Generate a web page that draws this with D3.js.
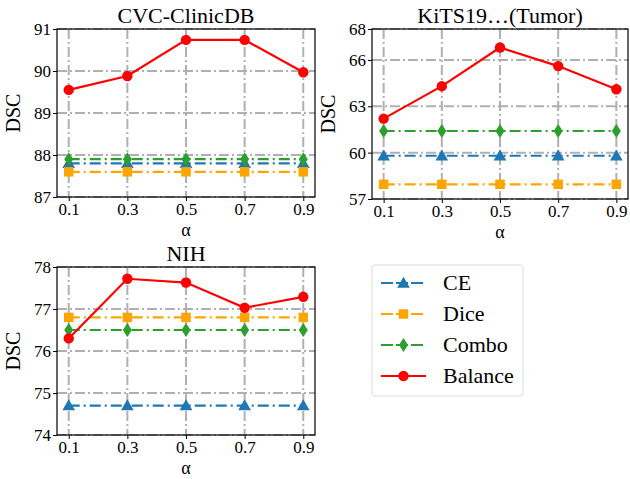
<!DOCTYPE html>
<html>
<head>
<meta charset="utf-8">
<script src="https://cdn.jsdelivr.net/npm/d3@7"></script>
<style>
  body { margin: 0; background: #fff; }
  svg text { font-family: "Liberation Serif", "DejaVu Serif", "Times New Roman", serif; fill: #000; }
</style>
</head>
<body>
<svg id="chart" width="630" height="479"></svg>
<script>
// data
const alphas = [0.1, 0.3, 0.5, 0.7, 0.9];
const tickLabels = ["0.1", "0.3", "0.5", "0.7", "0.9"];
const seriesNames = ["CE", "Dice", "Combo", "Balance"];

const cvcCE = [87.8, 87.8, 87.8, 87.8, 87.8];
const cvcDice = [87.6, 87.6, 87.6, 87.6, 87.6];
const cvcCombo = [87.9, 87.9, 87.9, 87.9, 87.9];
const cvcBalance = [89.55, 89.88, 90.74, 90.74, 89.97];

const kitsCE = [59.8, 59.8, 59.8, 59.8, 59.8];
const kitsDice = [57.95, 57.95, 57.95, 57.95, 57.95];
const kitsCombo = [61.4, 61.4, 61.4, 61.4, 61.4];
const kitsBalance = [62.2, 64.3, 66.8, 65.6, 64.1];

const nihCE = [74.7, 74.7, 74.7, 74.7, 74.7];
const nihDice = [76.8, 76.8, 76.8, 76.8, 76.8];
const nihCombo = [76.5, 76.5, 76.5, 76.5, 76.5];
const nihBalance = [76.3, 77.72, 77.63, 77.03, 77.29];

const cvcTicks = [87, 88, 89, 90, 91];
const kitsTicks = [57, 60, 63, 66, 68];
const nihTicks = [74, 75, 76, 77, 78];

const colors = { CE: "#1f77b4", Dice: "#ffa500", Combo: "#2ca02c", Balance: "#ff0000" };
const markers = { CE: d3.symbolTriangle, Dice: d3.symbolSquare, Combo: "diamond", Balance: d3.symbolCircle };
const serif = '"Liberation Serif", "DejaVu Serif", serif';

const panels = [
  { title: "KiTS19…(Tumor)", x: 372, y: 29, w: 256, h: 170, domain: [57, 68], ticks: kitsTicks,
    series: { CE: kitsCE, Dice: kitsDice, Combo: kitsCombo, Balance: kitsBalance } },
  { title: "CVC-ClinicDB", x: 57, y: 29, w: 258, h: 168, domain: [87, 91], ticks: cvcTicks,
    series: { CE: cvcCE, Dice: cvcDice, Combo: cvcCombo, Balance: cvcBalance } },
  { title: "NIH", x: 57, y: 267, w: 258, h: 168, domain: [74, 78], ticks: nihTicks,
    series: { CE: nihCE, Dice: nihDice, Combo: nihCombo, Balance: nihBalance } }
];

const svg = d3.select("#chart");

function drawMarker(g, name, cx, cy) {
  const c = colors[name];
  if (markers[name] === "diamond") {
    g.append("path")
      .attr("d", `M${cx},${cy - 7}L${cx + 4.5},${cy}L${cx},${cy + 7}L${cx - 4.5},${cy}Z`)
      .attr("fill", c);
  } else {
    const size = name === "Balance" ? 85 : name === "Dice" ? 90 : 70;
    g.append("path")
      .attr("d", d3.symbol().type(markers[name]).size(size)())
      .attr("transform", `translate(${cx},${cy + (name === "CE" ? 1 : 0)})`)
      .attr("fill", c);
  }
}

panels.forEach(p => {
  const g = svg.append("g").attr("transform", `translate(${p.x},${p.y})`);
  const x = d3.scaleLinear().domain([0.06, 0.94]).range([0, p.w]);
  const y = d3.scaleLinear().domain(p.domain).range([p.h, 0]);

  // grid
  g.selectAll(".gx").data(alphas).enter().append("line")
    .attr("x1", d => x(d)).attr("x2", d => x(d)).attr("y1", 0).attr("y2", p.h)
    .attr("stroke", "#b0b0b0").attr("stroke-width", 2).attr("stroke-dasharray", "10,3,2,3");
  g.selectAll(".gy").data(p.ticks).enter().append("line")
    .attr("x1", 0).attr("x2", p.w).attr("y1", d => y(d)).attr("y2", d => y(d))
    .attr("stroke", "#b0b0b0").attr("stroke-width", 2).attr("stroke-dasharray", "10,3,2,3");

  // lines
  seriesNames.forEach(name => {
    const vals = p.series[name];
    const line = d3.line().x((d, i) => x(alphas[i])).y(d => y(d));
    g.append("path").datum(vals)
      .attr("d", line)
      .attr("fill", "none")
      .attr("stroke", colors[name])
      .attr("stroke-width", 2.2)
      .attr("stroke-dasharray", name === "Balance" ? null : "11,4,2,4");
    vals.forEach((v, i) => drawMarker(g, name, x(alphas[i]), y(v)));
  });

  // axes
  const xAxis = d3.axisBottom(x).tickValues(alphas).tickFormat((d, i) => tickLabels[i]).tickSize(4);
  const yAxis = d3.axisLeft(y).tickValues(p.ticks).tickFormat(d3.format("d")).tickSize(4);
  const xg = g.append("g").attr("transform", `translate(0,${p.h})`).call(xAxis);
  const yg = g.append("g").call(yAxis);
  [xg, yg].forEach(a => {
    a.attr("font-family", null).attr("font-size", null);
    a.select(".domain").remove();
    a.selectAll("line").attr("stroke", "#000").attr("stroke-width", 1);
    a.selectAll("text").style("font-size", "17px").style("font-family", serif);
  });
  xg.selectAll("text").attr("y", 5).attr("dy", "0.75em");
  yg.selectAll("text").attr("x", -6);

  g.append("rect").attr("width", p.w).attr("height", p.h)
    .attr("fill", "none").attr("stroke", "#000").attr("stroke-width", 1.2);

  g.append("text").attr("x", p.w / 2).attr("y", -6)
    .attr("text-anchor", "middle").style("font-size", "22px").style("font-family", serif).text(p.title);
  g.append("text").attr("x", p.w / 2).attr("y", p.h + 39)
    .attr("text-anchor", "middle").style("font-size", "18px").style("font-family", serif).text("α");
  g.append("text")
    .attr("transform", `translate(-37,${p.h / 2}) rotate(-90)`)
    .attr("text-anchor", "middle").style("font-size", "20px").style("font-family", serif).text("DSC");
});

// legend
const lg = svg.append("g").attr("transform", "translate(372,265)");
lg.append("rect").attr("width", 151).attr("height", 131).attr("rx", 3)
  .attr("fill", "#fff").attr("stroke", "#dcdcdc").attr("stroke-width", 1);
seriesNames.forEach((name, i) => {
  const yy = 18 + i * 31;
  lg.append("line").attr("x1", 9).attr("x2", 54).attr("y1", yy).attr("y2", yy)
    .attr("stroke", colors[name]).attr("stroke-width", 2.2)
    .attr("stroke-dasharray", name === "Balance" ? null : "12,3");
  drawMarker(lg, name, 31.5, yy);
  lg.append("text").attr("x", 71).attr("y", yy + 7)
    .style("font-size", "22px").style("font-family", serif).text(name);
});
</script>
</body>
</html>
